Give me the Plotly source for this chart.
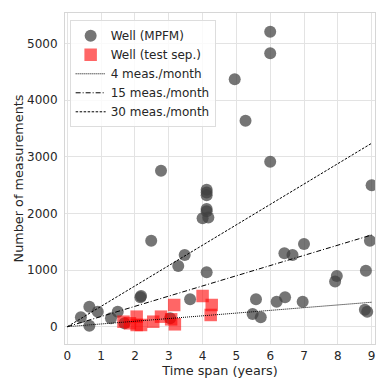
import plotly.graph_objects as go

# MPFM wells: time span (years), number of measurements
mpfm_x = [6.0, 6.0, 4.95, 5.27, 2.77, 6.0, 9.0, 4.12, 4.12, 4.12, 4.12, 4.12, 4.0, 4.17,
          2.48, 8.95, 3.47, 6.42, 6.66, 7.0, 3.28, 4.12, 7.97, 7.92, 8.83, 2.18, 2.16,
          3.63, 5.58, 6.19, 6.44, 6.96, 8.8, 8.87, 5.48, 5.72, 0.65, 0.9, 0.4, 0.65,
          1.49, 1.29, 1.69, 3.04]
mpfm_y = [5212, 4830, 4371, 3640, 2756, 2915, 2498, 2420, 2370, 2320, 2080, 2040, 1915, 1930,
          1520, 1520, 1267, 1297, 1267, 1461, 1072, 960, 896, 800, 990, 542, 520,
          484, 484, 442, 519, 442, 300, 265, 224, 166, 353, 265, 166, 18,
          265, 148, 60, 148]

# Test-separator wells
sep_x = [1.66, 1.85, 2.05, 2.05, 2.18, 2.54, 2.77, 3.07, 3.16, 3.18, 4.0, 4.27, 4.24]
sep_y = [88, 60, 177, 30, 30, 88, 177, 130, 383, 42, 542, 383, 207]

# Reference rates (measurements per month)
rates = [4, 15, 30]
rate_labels = ["4 meas./month", "15 meas./month", "30 meas./month"]
rate_dashes = ["1px,1px", "5px,2px,1px,2px", "2.5px,1.5px"]
span = [0, 9]

fig = go.Figure()
fig.add_trace(go.Scatter(x=mpfm_x, y=mpfm_y, mode="markers", name="Well (MPFM)",
                         marker=dict(color="rgb(64,64,64)", opacity=0.72, size=12,
                                     line=dict(width=0))))
fig.add_trace(go.Scatter(x=sep_x, y=sep_y, mode="markers", name="Well (test sep.)",
                         marker=dict(color="red", opacity=0.6, size=12.5, symbol="square",
                                     line=dict(width=0))))
for r, lab, d in zip(rates, rate_labels, rate_dashes):
    fig.add_trace(go.Scatter(x=span, y=[r * 12 * t for t in span], mode="lines", name=lab,
                             line=dict(color="black", width=1, dash=d)))

axis_common = dict(showgrid=True, gridcolor="#e3e3e3", gridwidth=1, zeroline=False,
                   showline=True, linecolor="#d6d6d6", linewidth=1, mirror=True,
                   ticks="", tickfont=dict(size=12, color="#262626"),
                   title_font=dict(size=12.8, color="#262626"), automargin=False)
fig.update_xaxes(range=[-0.07, 9.1], tickmode="array", tickvals=list(range(10)),
                 title_text="Time span (years)", title_standoff=0, ticklabelstandoff=1,
                 **axis_common)
fig.update_yaxes(range=[-306, 5542], tickmode="array", tickvals=[0, 1000, 2000, 3000, 4000, 5000],
                 title_text="Number of measurements", title_standoff=0, ticklabelstandoff=4,
                 **axis_common)

fig.update_layout(width=390, height=390, margin=dict(l=65, r=15, t=13, b=46),
                  plot_bgcolor="white", paper_bgcolor="white",
                  font=dict(family="DejaVu Sans", color="#262626"),
                  legend=dict(x=0.015, y=0.978, xanchor="left", yanchor="top",
                              bgcolor="rgba(255,255,255,0.8)", bordercolor="#dddddd",
                              borderwidth=1, font=dict(size=12), tracegroupgap=0,
                              itemwidth=30))
fig.write_html("out.html", config={"displayModeBar": False},
               post_script="document.body.style.margin='0px';")
